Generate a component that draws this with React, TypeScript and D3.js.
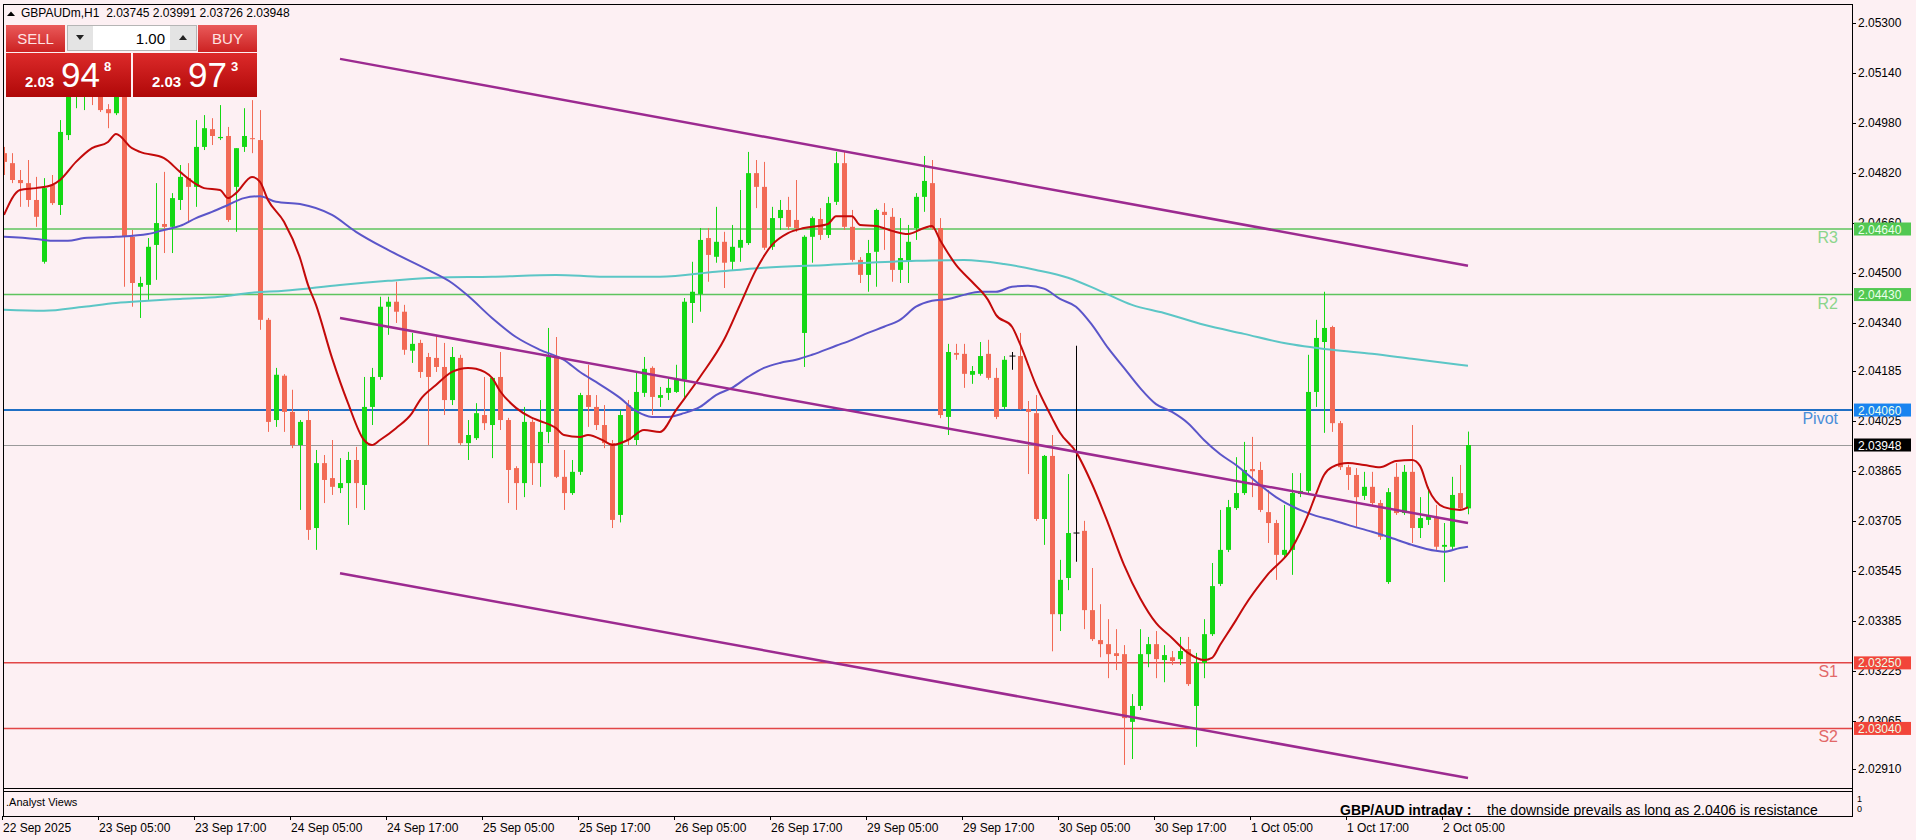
import * as d3 from 'd3'

// GBPAUDm H1, one candle per hour, oldest first (22 Sep 17:00 .. 2 Oct 08:00)
const opens = [
  2.04883, 2.04851, 2.04797, 2.04787, 2.04733, 2.04535, 2.04781, 2.04717,
  2.04941, 2.05092, 2.0508, 2.05086, 2.0508, 2.05024, 2.05011, 2.05066,
  2.04615, 2.04455, 2.04461, 2.04589, 2.04656, 2.04647, 2.04733, 2.04803,
  2.04775, 2.04903, 2.0496, 2.04931, 2.04938, 2.04775, 2.04903, 2.04931,
  2.04925, 2.04349, 2.04028, 2.0417, 2.04054, 2.03948, 2.04028, 2.03682,
  2.0389, 2.03842, 2.0381, 2.03826, 2.039, 2.0382, 2.0407, 2.04166,
  2.04391, 2.04407, 2.04375, 2.0425, 2.04275, 2.0423, 2.04227, 2.04198,
  2.04092, 2.04227, 2.03954, 2.0397, 2.04044, 2.04012, 2.04166, 2.04028,
  2.03874, 2.03826, 2.04022, 2.0389, 2.0399, 2.0423, 2.03846, 2.03794,
  2.03862, 2.04108, 2.0407, 2.04012, 2.03954, 2.03724, 2.04076, 2.03964,
  2.04115, 2.04195, 2.04099, 2.04115, 2.04118, 2.04157, 2.04403, 2.04432,
  2.04611, 2.04551, 2.04599, 2.04535, 2.0458, 2.04595, 2.04819, 2.04775,
  2.04583, 2.04675, 2.04701, 2.04669, 2.04307, 2.04615, 2.04672, 2.04621,
  2.04727, 2.04851, 2.04647, 2.04541, 2.04493, 2.04567, 2.04695, 2.04679,
  2.04509, 2.04535, 2.04643, 2.04743, 2.04787, 2.04643, 2.04038, 2.04243,
  2.0424, 2.04173, 2.04176, 2.0424, 2.04163, 2.0407, 2.04233, 2.04233,
  2.04063, 2.0405, 2.03711, 2.03913, 2.03406, 2.03522, 2.03666, 2.03673,
  2.03419, 2.03323, 2.0331, 2.03281, 2.03278, 2.03061, 2.03112, 2.03278,
  2.0331, 2.03259, 2.03268, 2.03262, 2.03294, 2.03112, 2.0325, 2.03342,
  2.03503, 2.03612, 2.03746, 2.03794, 2.03871, 2.03868, 2.03733, 2.03698,
  2.03596, 2.03612, 2.03791, 2.03801, 2.04118, 2.04278, 2.04326, 2.04018,
  2.03877, 2.03852, 2.03785, 2.03814, 2.03762, 2.03509, 2.03846, 2.0373,
  2.03862, 2.03682, 2.03708, 2.03718, 2.03622, 2.03622, 2.03794, 2.03745,
]
const highs = [
  2.04903, 2.04883, 2.04829, 2.04861, 2.04807, 2.04803, 2.04813, 2.04989,
  2.05102, 2.05124, 2.05118, 2.05112, 2.05102, 2.0504, 2.05086, 2.0508,
  2.04637, 2.04487, 2.04611, 2.04787, 2.04823, 2.04755, 2.04845, 2.04851,
  2.04989, 2.05005, 2.04995, 2.05037, 2.04967, 2.04899, 2.05027, 2.05053,
  2.05021, 2.04355, 2.04195, 2.04175, 2.04125, 2.04028, 2.0406, 2.03932,
  2.03916, 2.03964, 2.03906, 2.03926, 2.03942, 2.04166, 2.04195, 2.04423,
  2.04423, 2.04471, 2.04397, 2.04307, 2.04285, 2.04243, 2.04301, 2.04275,
  2.04262, 2.04237, 2.04028, 2.04082, 2.04166, 2.04166, 2.04246, 2.04035,
  2.0388, 2.0407, 2.0403, 2.04092, 2.04323, 2.04294, 2.03932, 2.039,
  2.04115, 2.04205, 2.04108, 2.04076, 2.03964, 2.0406, 2.04092, 2.04179,
  2.0423, 2.042, 2.04134, 2.04163, 2.04205, 2.04419, 2.04535, 2.04643,
  2.04643, 2.04711, 2.04631, 2.04653, 2.04765, 2.04887, 2.04861, 2.04855,
  2.04711, 2.04733, 2.04743, 2.04797, 2.0462, 2.0468, 2.04707, 2.04743,
  2.04887, 2.04887, 2.04701, 2.0455, 2.04605, 2.04705, 2.04723, 2.04707,
  2.04675, 2.04653, 2.04755, 2.04874, 2.04861, 2.04675, 2.04272, 2.04272,
  2.04272, 2.04201, 2.04278, 2.04285, 2.04195, 2.04233, 2.04246, 2.04307,
  2.04089, 2.04108, 2.03916, 2.0398, 2.0358, 2.03855, 2.04266, 2.03705,
  2.03554, 2.03438, 2.0339, 2.03358, 2.03307, 2.0315, 2.03358, 2.03333,
  2.03352, 2.03307, 2.03288, 2.03333, 2.03333, 2.03282, 2.0339, 2.0357,
  2.0374, 2.03772, 2.03909, 2.03958, 2.03974, 2.03894, 2.03804, 2.03708,
  2.03756, 2.03858, 2.03858, 2.04237, 2.04349, 2.04439, 2.0433, 2.04025,
  2.03885, 2.03874, 2.03862, 2.03862, 2.03772, 2.0381, 2.0389, 2.03884,
  2.04012, 2.03781, 2.03814, 2.03756, 2.03698, 2.03846, 2.03884, 2.03991,
]
const lows = [
  2.04813, 2.04787, 2.04711, 2.04711, 2.04647, 2.04529, 2.04717, 2.04685,
  2.04925, 2.05027, 2.05021, 2.05037, 2.05015, 2.04963, 2.05005, 2.04455,
  2.04391, 2.04355, 2.04413, 2.04477, 2.04563, 2.04563, 2.04701, 2.04659,
  2.04711, 2.04893, 2.04909, 2.04925, 2.04663, 2.04631, 2.04887, 2.04883,
  2.04317, 2.0399, 2.04006, 2.0399, 2.03938, 2.0374, 2.03644, 2.03612,
  2.03762, 2.03788, 2.03794, 2.03692, 2.03746, 2.0374, 2.04012, 2.04157,
  2.04301, 2.04339, 2.04237, 2.04211, 2.04163, 2.03948, 2.04182, 2.04044,
  2.04076, 2.03948, 2.039, 2.03964, 2.03996, 2.03906, 2.03996, 2.03762,
  2.0374, 2.03781, 2.0382, 2.03814, 2.03954, 2.03842, 2.0374, 2.03788,
  2.03852, 2.04006, 2.03996, 2.03938, 2.03682, 2.037, 2.03948, 2.03948,
  2.04102, 2.04044, 2.0407, 2.04092, 2.04115, 2.04092, 2.04339, 2.04375,
  2.04471, 2.04532, 2.04451, 2.04509, 2.04535, 2.04589, 2.04707, 2.04573,
  2.04573, 2.04637, 2.04637, 2.04631, 2.04198, 2.04532, 2.04605, 2.04611,
  2.04717, 2.04637, 2.04535, 2.04467, 2.04439, 2.04455, 2.04573, 2.04471,
  2.04467, 2.04467, 2.04605, 2.04695, 2.04637, 2.04034, 2.0398, 2.04221,
  2.04131, 2.04144, 2.0417, 2.04157, 2.04031, 2.04063, 2.04189, 2.0406,
  2.03855, 2.03705, 2.03628, 2.03287, 2.03352, 2.03483, 2.03574, 2.03358,
  2.0332, 2.03268, 2.03201, 2.03227, 2.02923, 2.02942, 2.03099, 2.03236,
  2.03201, 2.03188, 2.03243, 2.03243, 2.03176, 2.02981, 2.03201, 2.03336,
  2.03496, 2.03605, 2.0374, 2.03788, 2.03781, 2.03733, 2.03634, 2.03516,
  2.03586, 2.03532, 2.03781, 2.03794, 2.0407, 2.03987, 2.0399, 2.03868,
  2.03804, 2.03686, 2.03772, 2.03756, 2.03644, 2.03503, 2.03724, 2.03724,
  2.03634, 2.0365, 2.03692, 2.03612, 2.03509, 2.03612, 2.0374, 2.03726,
]
const closes = [
  2.04855, 2.04797, 2.04787, 2.04733, 2.04679, 2.04771, 2.04723, 2.04951,
  2.05086, 2.05102, 2.05092, 2.05073, 2.05021, 2.05011, 2.05066, 2.04615,
  2.04467, 2.04467, 2.04583, 2.04659, 2.04647, 2.04739, 2.04807, 2.04775,
  2.04903, 2.04963, 2.04938, 2.04935, 2.04669, 2.04899, 2.04938, 2.04928,
  2.04349, 2.04022, 2.04173, 2.04054, 2.03948, 2.04022, 2.03676, 2.0389,
  2.03836, 2.03814, 2.03826, 2.039, 2.03826, 2.0407, 2.04166, 2.04391,
  2.04407, 2.04375, 2.04253, 2.04272, 2.04182, 2.04166, 2.04198, 2.04092,
  2.0423, 2.03954, 2.0398, 2.0405, 2.04018, 2.04163, 2.04028, 2.03868,
  2.03826, 2.04022, 2.0389, 2.0399, 2.0423, 2.03846, 2.03794, 2.03862,
  2.04108, 2.0407, 2.04012, 2.03954, 2.03708, 2.04044, 2.03964, 2.04118,
  2.04192, 2.04102, 2.04108, 2.04131, 2.04157, 2.04407, 2.04439, 2.04605,
  2.04557, 2.04599, 2.04532, 2.04583, 2.04605, 2.04819, 2.04775, 2.0458,
  2.04675, 2.04701, 2.04647, 2.04643, 2.04615, 2.04675, 2.04621, 2.04723,
  2.04851, 2.04647, 2.04541, 2.04493, 2.04563, 2.04701, 2.04685, 2.04509,
  2.04547, 2.04599, 2.04743, 2.04794, 2.04643, 2.04044, 2.04246, 2.04237,
  2.04176, 2.04185, 2.04233, 2.04163, 2.04038, 2.04221, 2.04233, 2.04063,
  2.04054, 2.03711, 2.03913, 2.03406, 2.03516, 2.03666, 2.03666, 2.03419,
  2.03326, 2.0331, 2.03278, 2.03272, 2.03073, 2.03112, 2.03278, 2.0331,
  2.03262, 2.03275, 2.03256, 2.03288, 2.03182, 2.0325, 2.03342, 2.03496,
  2.03612, 2.03749, 2.03794, 2.03868, 2.03864, 2.0374, 2.03698, 2.03596,
  2.03612, 2.03794, 2.03801, 2.04118, 2.04291, 2.04323, 2.04018, 2.03877,
  2.03852, 2.03781, 2.03814, 2.03762, 2.03654, 2.03797, 2.0373, 2.03862,
  2.03682, 2.03714, 2.03721, 2.03622, 2.03628, 2.03788, 2.03745, 2.03948,
]

// moving averages: [bar, price]
const fastMA: [number, number][] = [
  [0, 2.04685], [2, 2.04765], [4, 2.04771], [6, 2.04781], [7, 2.04797], [9, 2.04855], [11, 2.04899],
  [13, 2.04919], [14, 2.04944], [16, 2.04899], [17, 2.04887], [20, 2.04867], [22, 2.04823], [24, 2.04784],
  [25, 2.04771], [27, 2.04765], [28, 2.04739], [29, 2.04755], [31, 2.04807], [32, 2.04791], [33, 2.04733],
  [35, 2.04663], [37, 2.04547], [38, 2.04461], [39, 2.04397], [41, 2.04227], [43, 2.04082], [45, 2.03964],
  [46, 2.03948], [47, 2.03964], [49, 2.04002], [51, 2.0405], [52, 2.04092], [54, 2.0414], [56, 2.04182],
  [58, 2.04195], [59, 2.04192], [61, 2.04163], [62, 2.04121], [64, 2.04067], [66, 2.04035], [67, 2.04025],
  [69, 2.04002], [70, 2.0398], [72, 2.03974], [73, 2.0398], [75, 2.03961], [76, 2.03948], [78, 2.03964],
  [80, 2.03996], [82, 2.0399], [84, 2.0406], [87, 2.04166], [90, 2.04285], [92, 2.04397], [94, 2.04509],
  [96, 2.04589], [98, 2.04627], [100, 2.04643], [103, 2.04656], [104, 2.04681], [106, 2.04681], [107, 2.04653],
  [109, 2.0465], [111, 2.04634], [113, 2.04624], [115, 2.04643], [116, 2.0465], [117, 2.04605], [119, 2.04525],
  [121, 2.04471], [123, 2.04413], [124, 2.04365], [126, 2.04327], [127, 2.04272], [129, 2.0414], [131, 2.04035],
  [132, 2.03987], [134, 2.03926], [136, 2.03823], [138, 2.03698], [140, 2.03564], [142, 2.03458], [144, 2.03378],
  [146, 2.0333], [148, 2.03282], [150, 2.03259], [151, 2.03266], [152, 2.03307], [154, 2.03387], [155, 2.03429],
  [158, 2.03534], [161, 2.03618], [163, 2.03724], [164, 2.03791], [165, 2.03852], [166, 2.03877], [168, 2.0389],
  [170, 2.03884], [172, 2.03877], [174, 2.03897], [176, 2.039], [177, 2.03881], [178, 2.0381], [180, 2.03749],
  [182, 2.0374], [183, 2.03749],
]
const midMA: [number, number][] = [
  [0, 2.04615], [4, 2.04608], [6, 2.04602], [8, 2.04602], [10, 2.04611], [14, 2.04615], [18, 2.04624],
  [20, 2.04637], [22, 2.0465], [24, 2.04675], [26, 2.04695], [28, 2.04717], [30, 2.04739], [32, 2.04745],
  [34, 2.04727], [37, 2.0472], [41, 2.04685], [44, 2.04631], [48, 2.04573], [53, 2.04509], [56, 2.04467],
  [58, 2.04426], [61, 2.04355], [64, 2.04294], [67, 2.04253], [70, 2.04221], [72, 2.04182], [74, 2.0415],
  [77, 2.04099], [79, 2.04057], [81, 2.04038], [83, 2.04038], [85, 2.0405], [87, 2.0407], [89, 2.04108],
  [91, 2.04131], [93, 2.04166], [95, 2.04195], [97, 2.04211], [99, 2.04221], [101, 2.04237], [104, 2.04266],
  [106, 2.04285], [108, 2.04307], [110, 2.04327], [112, 2.04349], [114, 2.04391], [116, 2.0441], [118, 2.04416],
  [120, 2.04429], [122, 2.04439], [124, 2.04439], [126, 2.04455], [128, 2.04458], [130, 2.04449], [132, 2.04416],
  [134, 2.04391], [136, 2.04333], [138, 2.04259], [140, 2.04195], [142, 2.04131], [144, 2.04079], [146, 2.04054],
  [148, 2.04018], [150, 2.03964], [152, 2.03919], [154, 2.03884], [157, 2.0382], [159, 2.03781], [162, 2.0374],
  [164, 2.03721], [166, 2.03708], [168, 2.03692], [171, 2.0367], [173, 2.03654], [176, 2.03628], [179, 2.03609],
  [180, 2.03606], [182, 2.03618], [183, 2.03622],
]
const slowMA: [number, number][] = [
  [0, 2.04381], [5, 2.04378], [10, 2.04391], [14, 2.04403], [18, 2.0441], [22, 2.04416], [27, 2.04423],
  [31, 2.04436], [35, 2.04442], [42, 2.04461], [48, 2.04474], [54, 2.04484], [61, 2.04487], [69, 2.04493],
  [75, 2.04487], [82, 2.04487], [89, 2.04503], [95, 2.04516], [103, 2.04525], [114, 2.04538], [120, 2.04541],
  [125, 2.04528], [129, 2.04509], [133, 2.04484], [137, 2.04442], [141, 2.04397], [145, 2.04371], [150, 2.04333],
  [155, 2.04304], [160, 2.04275], [166, 2.04253], [171, 2.0424], [176, 2.04224], [183, 2.04202],
]

// price channel (three parallel lines)
const channelBars = [42, 183]
const channelStartPrices = [2.05185, 2.04355, 2.03537]
const channelEndPrices = [2.04522, 2.03698, 2.02881]

// pivot levels
const levelNames = ['R3', 'R2', 'Pivot', 'S1', 'S2']
const levelValues = [2.0464, 2.0443, 2.0406, 2.0325, 2.0304]

const priceTicks = [
  2.053, 2.0514, 2.0498, 2.0482, 2.0466, 2.045, 2.0434, 2.04185,
  2.04025, 2.03865, 2.03705, 2.03545, 2.03385, 2.03225, 2.03065, 2.0291,
]
const timeLabels = [
  '22 Sep 2025', '23 Sep 05:00', '23 Sep 17:00', '24 Sep 05:00', '24 Sep 17:00', '25 Sep 05:00',
  '25 Sep 17:00', '26 Sep 05:00', '26 Sep 17:00', '29 Sep 05:00', '29 Sep 17:00', '30 Sep 05:00',
  '30 Sep 17:00', '1 Oct 05:00', '1 Oct 17:00', '2 Oct 05:00',
]
const timeLabelBars = [0, 12, 24, 36, 48, 60, 72, 84, 96, 108, 120, 132, 144, 156, 168, 180]

const bid = 2.03948
const ask = 2.03973

const levelStyle: Record<string, { line: string; text: string; box: string; w: number }> = {
  R3: { line: '#5ec45e', text: '#8bd58b', box: '#52c852', w: 1.5 },
  R2: { line: '#5ec45e', text: '#8bd58b', box: '#52c852', w: 1.5 },
  Pivot: { line: '#1f6fc4', text: '#4a8ed8', box: '#1a84f0', w: 2 },
  S1: { line: '#e24646', text: '#e26868', box: '#f2453a', w: 1.5 },
  S2: { line: '#e24646', text: '#e26868', box: '#f2453a', w: 1.5 },
}

const FONT = '"Liberation Sans", Arial, sans-serif'
const BULL = '#14d814'
const BEAR = '#f26a55'

const priceParts = (p: number) => {
  const s = p.toFixed(5)
  return [s.slice(0, 4), s.slice(4, 6), s.slice(6)]
}

const App = () => {
  const x = d3.scaleLinear().domain([0, 183]).range([4, 1468])
  const y = d3.scaleLinear().domain([2.0291, 2.053]).range([769, 23])

  const lineGen = d3
    .line<[number, number]>()
    .x(d => x(d[0]))
    .y(d => y(d[1]))
    .curve(d3.curveMonotoneX)

  const left = 3
  const right = 1852
  const top = 4
  const mainBottom = 788
  const paneTop = 791
  const bottom = 816
  const last = closes.length - 1

  const [b1, b2, b3] = priceParts(bid)
  const [a1, a2, a3] = priceParts(ask)

  return (
    <svg
      width={1916}
      height={840}
      style={{ position: 'absolute', left: 0, top: 0, display: 'block' }}
      fontFamily={FONT}
    >
      <defs>
        <clipPath id="main">
          <rect x={left} y={top} width={right - left} height={mainBottom - top} />
        </clipPath>
        <clipPath id="pane">
          <rect x={left} y={paneTop} width={right - left} height={bottom - paneTop} />
        </clipPath>
        <linearGradient id="btn" x1="0" y1="0" x2="0" y2="1">
          <stop offset="0" stopColor="#ea5a5a" />
          <stop offset="1" stopColor="#cc2222" />
        </linearGradient>
        <linearGradient id="px" x1="0" y1="0" x2="0" y2="1">
          <stop offset="0" stopColor="#dc2a2a" />
          <stop offset="1" stopColor="#b00808" />
        </linearGradient>
      </defs>

      <rect x={0} y={0} width={1916} height={840} fill="#fdf0f3" />

      <g clipPath="url(#main)">
        {/* pivot levels */}
        {levelNames.map((n, i) => (
          <line
            key={n}
            x1={left}
            x2={right}
            y1={y(levelValues[i])}
            y2={y(levelValues[i])}
            stroke={levelStyle[n].line}
            strokeWidth={levelStyle[n].w}
          />
        ))}
        <line x1={left} x2={right} y1={y(bid) + 0.5} y2={y(bid) + 0.5} stroke="#9a9a9a" strokeWidth={1} />

        {/* candles */}
        {opens.map((o, i) => {
          const c = closes[i]
          const col = c > o ? BULL : c < o ? BEAR : '#000'
          const cx = Math.round(x(i)) + 0.5
          const t = y(Math.max(o, c))
          const b = y(Math.min(o, c))
          return (
            <g key={i}>
              <line x1={cx} x2={cx} y1={y(highs[i])} y2={y(lows[i])} stroke={col} strokeWidth={1} />
              {c === o ? (
                <line x1={cx - 3} x2={cx + 3} y1={t} y2={t} stroke={col} strokeWidth={1} />
              ) : (
                <rect x={cx - 2.5} y={t} width={5} height={Math.max(1, b - t)} fill={col} />
              )}
            </g>
          )
        })}

        {/* moving averages */}
        <path d={lineGen(slowMA) ?? ''} fill="none" stroke="#5cc6c6" strokeWidth={2} />
        <path d={lineGen(midMA) ?? ''} fill="none" stroke="#5b55c9" strokeWidth={2} />
        <path d={lineGen(fastMA) ?? ''} fill="none" stroke="#c30a0a" strokeWidth={2} />

        {/* channel */}
        {channelStartPrices.map((p, i) => (
          <line
            key={i}
            x1={x(channelBars[0])}
            y1={y(p)}
            x2={x(channelBars[1])}
            y2={y(channelEndPrices[i])}
            stroke="#9c2a90"
            strokeWidth={2.5}
          />
        ))}

        {/* level names */}
        {levelNames.map((n, i) => (
          <text
            key={n}
            x={1838}
            y={y(levelValues[i]) + 14}
            textAnchor="end"
            fontSize={16}
            fill={levelStyle[n].text}
          >
            {n}
          </text>
        ))}
      </g>

      {/* frame */}
      <rect x={left + 0.5} y={top + 0.5} width={right - left} height={bottom - top} fill="none" stroke="#000" />
      <line x1={left} x2={right} y1={mainBottom + 0.5} y2={mainBottom + 0.5} stroke="#000" />
      <line x1={left} x2={right} y1={paneTop + 0.5} y2={paneTop + 0.5} stroke="#000" />

      {/* price axis */}
      {priceTicks.map(p => (
        <g key={p}>
          <line x1={right} x2={right + 4} y1={Math.round(y(p)) + 0.5} y2={Math.round(y(p)) + 0.5} stroke="#000" />
          <text x={1858} y={y(p) + 4} fontSize={12} fill="#000">
            {p.toFixed(5)}
          </text>
        </g>
      ))}
      {levelNames.map((n, i) => (
        <g key={n}>
          <rect x={1854} y={y(levelValues[i]) - 6.5} width={57} height={13} fill={levelStyle[n].box} />
          <text x={1858} y={y(levelValues[i]) + 4.5} fontSize={12} fill="#eaffea">
            {levelValues[i].toFixed(5)}
          </text>
        </g>
      ))}
      <rect x={1854} y={y(bid) - 6.5} width={57} height={13} fill="#000" />
      <text x={1858} y={y(bid) + 4.5} fontSize={12} fill="#fff">
        {bid.toFixed(5)}
      </text>
      <text x={1857} y={802} fontSize={9} fill="#000">1</text>
      <text x={1857} y={812} fontSize={9} fill="#000">0</text>

      {/* time axis */}
      {timeLabels.map((t, i) => (
        <g key={t}>
          <line
            x1={Math.round(x(timeLabelBars[i])) - 1.5}
            x2={Math.round(x(timeLabelBars[i])) - 1.5}
            y1={bottom}
            y2={bottom + 4}
            stroke="#000"
          />
          <text x={Math.max(left, x(timeLabelBars[i]) - 1)} y={832} fontSize={12} fill="#000">
            {t}
          </text>
        </g>
      ))}

      {/* indicator pane */}
      <text x={6} y={806} fontSize={11} fill="#000">.Analyst Views</text>
      <g clipPath="url(#pane)">
        <text x={1340} y={815} fontSize={14} fontWeight="bold" fill="#000">
          GBP/AUD intraday :
        </text>
        <text x={1487} y={815} fontSize={14} fill="#000">
          the downside prevails as long as 2.0406 is resistance
        </text>
      </g>

      {/* title */}
      <path d="M7,16 L11,11.5 L15,16 Z" fill="#000" />
      <text x={21} y={17} fontSize={12} fill="#000" style={{ whiteSpace: 'pre' }}>
        {`GBPAUDm,H1  ${opens[last].toFixed(5)} ${highs[last].toFixed(5)} ${lows[last].toFixed(5)} ${closes[last].toFixed(5)}`}
      </text>

      {/* one-click trading panel */}
      <g>
        <rect x={6} y={25} width={59} height={27} fill="url(#btn)" />
        <text x={35.5} y={44} textAnchor="middle" fontSize={15} fill="#ffe2e2">SELL</text>
        <rect x={67.5} y={25.5} width={129} height={25} fill="#e4e4e4" stroke="#b5b5b5" />
        <rect x={93} y={26} width={77} height={24} fill="#fff" />
        <path d="M76,35 L84,35 L80,40 Z" fill="#222" />
        <path d="M179,40 L187,40 L183,35 Z" fill="#222" />
        <text x={165} y={44} textAnchor="end" fontSize={15} fill="#000">1.00</text>
        <rect x={198} y={25} width={59} height={27} fill="url(#btn)" />
        <text x={227.5} y={44} textAnchor="middle" fontSize={15} fill="#ffe2e2">BUY</text>

        <rect x={6} y={53} width={125} height={44} fill="url(#px)" />
        <rect x={133} y={53} width={124} height={44} fill="url(#px)" />
        <text x={25} y={87} fontSize={15} fontWeight="bold" fill="#fff">{b1}</text>
        <text x={61} y={87} fontSize={35} fill="#fff">{b2}</text>
        <text x={104} y={71} fontSize={13} fontWeight="bold" fill="#fff">{b3}</text>
        <text x={152} y={87} fontSize={15} fontWeight="bold" fill="#fff">{a1}</text>
        <text x={188} y={87} fontSize={35} fill="#fff">{a2}</text>
        <text x={231} y={71} fontSize={13} fontWeight="bold" fill="#fff">{a3}</text>
      </g>
    </svg>
  )
}

export default App
